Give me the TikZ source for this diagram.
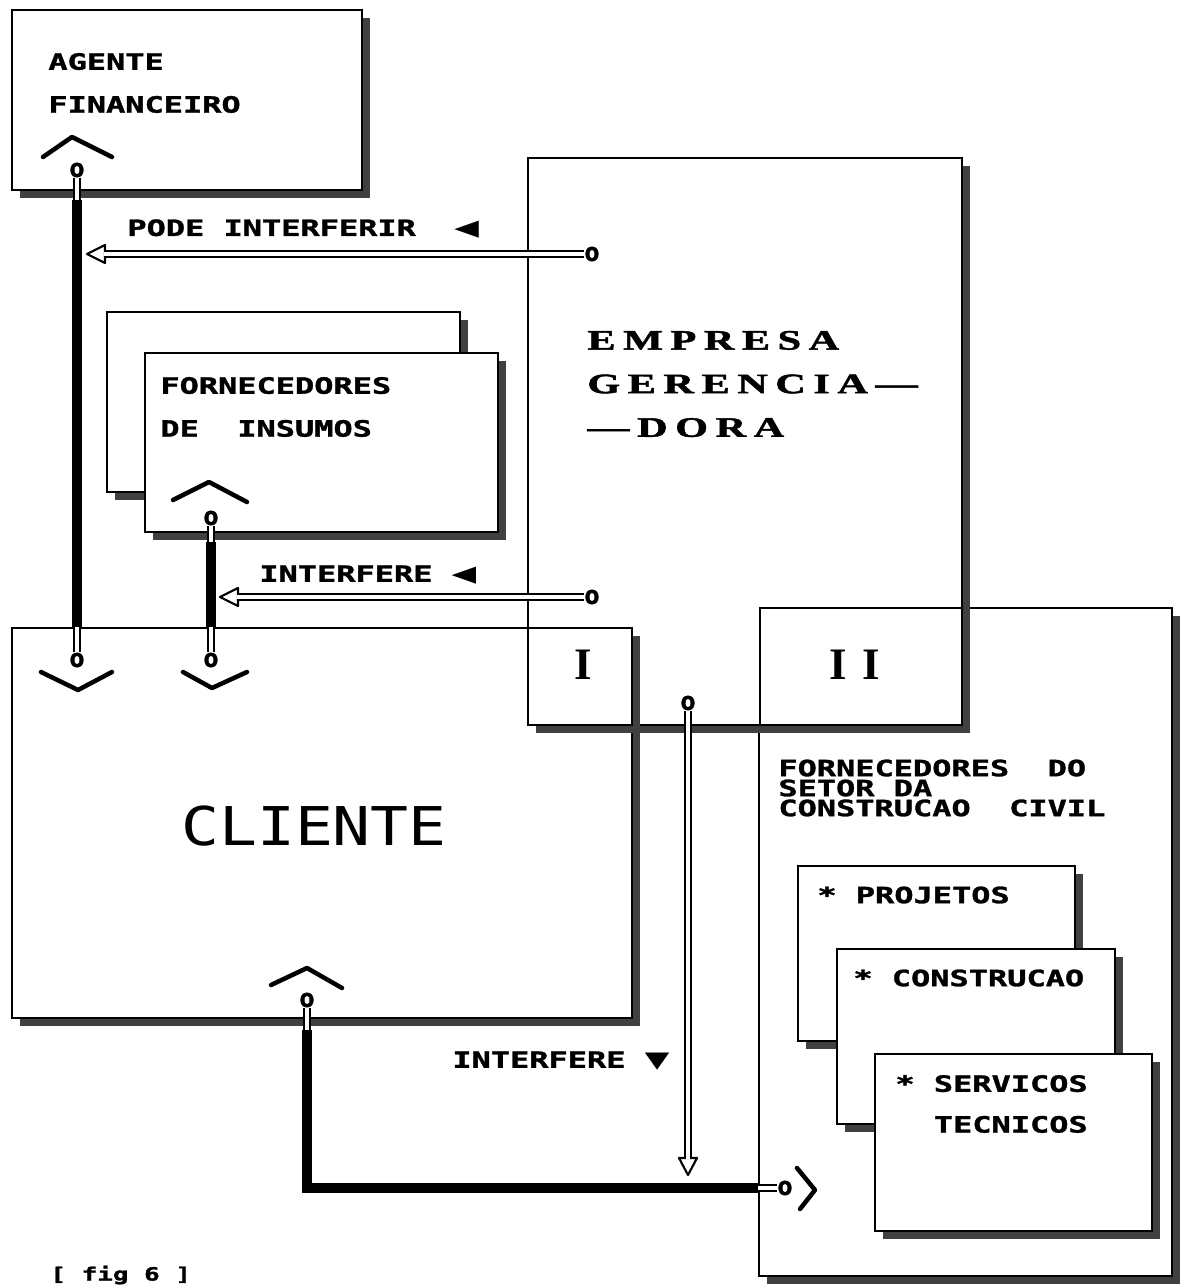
\documentclass[tikz,border=0pt]{standalone}
\usepackage{fontspec}
\newfontfamily\dotfont{DejaVu Sans Mono}[BoldFeatures={FakeBold=1.2}]
\newfontfamily\slabfont{Liberation Serif}[LetterSpace=18, BoldFeatures={FakeBold=1.5}]
\newfontfamily\romfont{Liberation Serif}[LetterSpace=35]
\newfontfamily\symfont{DejaVu Sans}
\usetikzlibrary{calc,fit,shadows}

\tikzset{
  box/.style={draw, fill=white, line width=1.2pt, inner sep=0pt,
    drop shadow={shadow xshift=5.7pt, shadow yshift=-5.7pt, fill=black!75, opacity=1}},
  lbl/.style={anchor=west, inner sep=0pt, xscale=1.42, align=left,
    font=\dotfont\bfseries\fontsize{16}{30.5}\selectfont},
  knob/.style={inner sep=0pt, font=\dotfont\bfseries\fontsize{18}{18}\selectfont},
  chev/.style={line width=3.2pt, line cap=round, line join=round},
  pipe/.style={draw=black, line width=1.5pt, double=white, double distance=2.8pt},
  wire/.style={line width=6.5pt},
  arrowhd/.style={draw, fill=white, line width=1.5pt, line join=round},
}

\begin{document}
\begin{tikzpicture}[x=0.025cm, y=-0.025cm]
\path[use as bounding box, fill=white] (0,0) rectangle (1183,1285);

% boxes
\node[box, fit={(12,10) (362,190)}] (agente) {};
\node[box, fit={(107,312) (460,492)}] (insA) {};
\node[box, fit={(145,353) (498,532)}] (insB) {};
\node[box, fit={(12,628) (632,1018)}] (cliente) {};
\node[box, fit={(759,608) (1172,1276)}] (setor) {};
\node[box, fit={(528,158) (962,725)}] (empresa) {};
\node[box, fit={(528,628) (632,725)}] (regI) {};
\node[box, fit={(760,608) (962,725)}] (regII) {};
\node[box, fit={(798,866) (1075,1041)}] (projetos) {};
\node[box, fit={(837,949) (1115,1124)}] (construcao) {};
\node[box, fit={(875,1054) (1152,1231)}] (servicos) {};

% labels
\node[lbl] (t-agente) at (48,83) {AGENTE\\FINANCEIRO};
\node[lbl] (t-insumos) at (160,407) {FORNECEDORES\\DE~~INSUMOS};
\node[lbl] (t-pode) at (127,229) {PODE INTERFERIR~~{\symfont ◀}};
\node[lbl] (t-interf) at (259,575) {INTERFERE {\symfont ◀}};
\node[lbl] (t-interf2) at (452,1061) {INTERFERE {\symfont ▼}};
\node[lbl, font=\dotfont\bfseries\fontsize{16}{14.2}\selectfont] (t-setor) at (778,788)
  {FORNECEDORES~~DO\\SETOR DA\\CONSTRUCAO~~CIVIL};
\node[lbl] (t-proj) at (817,895) {* PROJETOS};
\node[lbl] (t-constr) at (853,978) {* CONSTRUCAO};
\node[lbl, font=\dotfont\bfseries\fontsize{16}{29}\selectfont] (t-serv) at (895,1104)
  {* SERVICOS\\\phantom{*~}TECNICOS};
\node[lbl, font=\dotfont\bfseries\fontsize{13}{13}\selectfont] (t-fig) at (50,1275) {\relax[ fig 6 ]};
\node[anchor=west, inner sep=0pt, align=left, xscale=1.5,
  font=\slabfont\bfseries\fontsize{20}{31}\selectfont] (t-empresa) at (587,384)
  {EMPRESA\\GERENCIA—\\—DORA};
\node[xscale=1.18, font=\dotfont\fontsize{38}{38}\selectfont] (t-cliente) at (314,826) {CLIENTE};
\node[font=\romfont\bfseries\fontsize{32}{32}\selectfont] (t-I) at (583,665) {I};
\node[font=\romfont\bfseries\fontsize{32}{32}\selectfont] (t-II) at (855,665) {II};

% carets
\draw[chev] (43,157) -- (72,137) -- (112,157);
\draw[chev] (173,500) -- (209,482) -- (247,502);
\draw[chev] (271,985) -- (307,968) -- (342,988);
\draw[chev] (41,672) -- (78,690) -- (112,672);
\draw[chev] (183,672) -- (212,688) -- (247,672);
\draw[chev] (797,1168) -- (815,1190) -- (800,1209);

% ends
\node[knob] (ag-o) at (77,170) {o};
\node[knob] (ag-i) at (77,660) {o};
\node[knob] (in-o) at (211,518) {o};
\node[knob] (in-i) at (211,660) {o};
\node[knob] (cl-o) at (307,1000) {o};
\node[knob] (se-o) at (785,1188) {o};
\node[knob] (em-o) at (688,703) {o};
\node[knob] (pi-o) at (592,254) {o};
\node[knob] (if-o) at (592,597) {o};
\coordinate (pi-tip) at (87,254);
\coordinate (if-tip) at (220,597);
\coordinate (em-tip) at (688,1175);

% solid links
\draw[pipe] (ag-o.south) -- (ag-i.north);
\draw[wire] ($(ag-o |- agente.south)+(0,9)$) -- (ag-i |- cliente.north);
\draw[pipe] (in-o.south) -- (in-i.north);
\draw[wire] ($(in-o |- insB.south)+(0,9)$) -- (in-i |- cliente.north);
\draw[pipe] (cl-o.south) |- (se-o.west);
\draw[wire] ($(cl-o |- cliente.south)+(0,11)$) |- (setor.west |- se-o);

% interference arrows
\draw[arrowhd] (pi-tip) -- ++(18,-9) -- ++(0,18) -- cycle;
\draw[pipe] (pi-o.west) -- ($(pi-tip)+(17,0)$);
\draw[arrowhd] (if-tip) -- ++(18,-9) -- ++(0,18) -- cycle;
\draw[pipe] (if-o.west) -- ($(if-tip)+(17,0)$);
\draw[arrowhd] (em-tip) -- ++(-9,-17) -- ++(18,0) -- cycle;
\draw[pipe] (em-o.south) -- ($(em-tip)+(0,-16)$);
\end{tikzpicture}
\end{document}
